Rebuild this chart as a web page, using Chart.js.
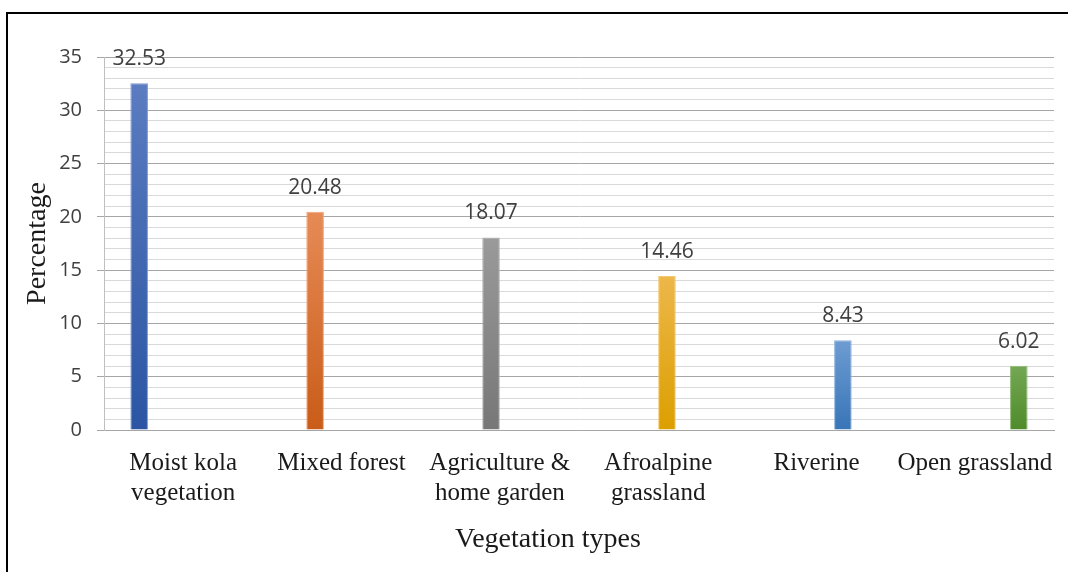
<!DOCTYPE html>
<html>
<head>
<meta charset="utf-8">
<script src="https://cdn.jsdelivr.net/npm/chart.js@4.4.1/dist/chart.umd.min.js"></script>
<style>
  html, body { margin: 0; padding: 0; background: #ffffff; }
  #wrap { position: relative; width: 1068px; height: 572px; overflow: hidden; }
  #chart { position: absolute; left: 0; top: 0; }
  #frame {
    position: absolute; left: 6px; top: 12px; width: 1100px; height: 600px;
    border-top: 2px solid #000; border-left: 2px solid #000; pointer-events: none;
  }
</style>
</head>
<body>
<div id="wrap">
  <canvas id="chart" width="1068" height="572"></canvas>
  <div id="frame"></div>
</div>
<script>
// Vegetation types and their share (%)
const categories = [
  ['Moist kola', 'vegetation'],
  ['Mixed forest'],
  ['Agriculture &', 'home garden'],
  ['Afroalpine', 'grassland'],
  ['Riverine'],
  ['Open grassland']
];
const values = [32.53, 20.48, 18.07, 14.46, 8.43, 6.02];
const yTicks = [0, 5, 10, 15, 20, 25, 30, 35];
const xTitle = 'Vegetation types';
const yTitle = 'Percentage';

// Fill gradients per bar: top colour, bottom colour
const topColors    = ['#5b7cc0', '#e68b56', '#9a9a9a', '#edb74a', '#6d9cd2', '#74a754'];
const bottomColors = ['#2b55a3', '#c95c18', '#777777', '#dc9f00', '#3875b7', '#4e8b2a'];
const edgeColors   = ['#7f97cf', '#eea37a', '#b4b4b4', '#f3c86e', '#8fb3dd', '#93bb7a'];

const serif = '"Liberation Serif", "Times New Roman", serif';

function barGradient(i) {
  return (ctx) => {
    const chart = ctx.chart;
    const y = chart.scales.y;
    if (!y || ctx.raw == null) return topColors[i];
    const yTop = y.getPixelForValue(ctx.raw);
    const yBase = y.getPixelForValue(0);
    if (!Number.isFinite(yTop) || !Number.isFinite(yBase) || yTop === yBase) return topColors[i];
    const g = chart.ctx.createLinearGradient(0, yTop, 0, yBase);
    g.addColorStop(0, topColors[i]);
    g.addColorStop(1, bottomColors[i]);
    return g;
  };
}

const datasets = values.map((v, i) => ({
  label: categories[i].join(' '),
  data: values.map((_, j) => (j === i ? v : null)),
  backgroundColor: barGradient(i),
  borderColor: edgeColors[i],
  borderWidth: 1,
  categoryPercentage: 0.667,
  barPercentage: 1.0
}));

// Value labels above each bar
const valueLabels = {
  id: 'valueLabels',
  afterDatasetsDraw(chart) {
    const ctx = chart.ctx;
    ctx.save();
    ctx.font = '21px "Open Sans", sans-serif';
    ctx.fillStyle = '#404040';
    ctx.textAlign = 'center';
    ctx.textBaseline = 'alphabetic';
    chart.data.datasets.forEach((ds, di) => {
      const meta = chart.getDatasetMeta(di);
      meta.data.forEach((el, idx) => {
        const v = ds.data[idx];
        if (v == null) return;
        ctx.fillText(v.toFixed(2), el.x, el.y - 18);
      });
    });
    ctx.restore();
  }
};

// Horizontal axis title, centred under the whole chart box
const xAxisTitle = {
  id: 'xAxisTitle',
  afterDraw(chart) {
    const ctx = chart.ctx;
    ctx.save();
    ctx.font = '28px ' + serif;
    ctx.fillStyle = '#1a1a1a';
    ctx.textAlign = 'center';
    ctx.textBaseline = 'middle';
    ctx.fillText(xTitle, 548, 540);
    ctx.restore();
  }
};

new Chart(document.getElementById('chart'), {
  type: 'bar',
  data: { labels: categories, datasets },
  plugins: [valueLabels, xAxisTitle],
  options: {
    responsive: false,
    animation: false,
    events: [],
    layout: { padding: { left: 8, right: 14, top: 57, bottom: 0 } },
    plugins: {
      legend: { display: false },
      tooltip: { enabled: false },
      title: { display: false }
    },
    scales: {
      x: {
        afterFit(scale) {
          scale.height = 142;
          scale.paddingLeft = 0;
          scale.paddingRight = 0;
        },
        grid: { display: false, drawTicks: false },
        border: { display: true, color: '#a6a6a6', width: 1 },
        ticks: {
          color: '#1a1a1a',
          padding: 18,
          maxRotation: 0,
          autoSkip: false,
          font: { family: serif, size: 25, lineHeight: 1.2 }
        }
      },
      y: {
        min: 0,
        max: 35,
        afterFit(scale) { scale.width = 96; },
        afterBuildTicks(scale) {
          // every whole unit gets a grid line; only the listed ticks get labels
          const t = [];
          for (let v = 0; v <= 35; v++) t.push({ value: v });
          scale.ticks = t;
        },
        grid: {
          color: (c) => (yTicks.includes(c.tick.value) ? '#a6a6a6' : '#d9d9d9'),
          tickColor: (c) => (yTicks.includes(c.tick.value) ? '#a6a6a6' : 'rgba(0,0,0,0)'),
          tickLength: 7,
          lineWidth: 1
        },
        border: { display: true, color: '#bfbfbf', width: 1 },
        ticks: {
          autoSkip: false,
          padding: 15,
          color: '#404040',
          font: { family: '"Open Sans", sans-serif', size: 20 },
          callback: (v) => (yTicks.includes(v) ? String(v) : '')
        },
        title: {
          display: true,
          text: yTitle,
          color: '#1a1a1a',
          padding: { top: 13, bottom: 0 },
          font: { family: serif, size: 28, lineHeight: 1.2 }
        }
      }
    }
  }
});
</script>
</body>
</html>
